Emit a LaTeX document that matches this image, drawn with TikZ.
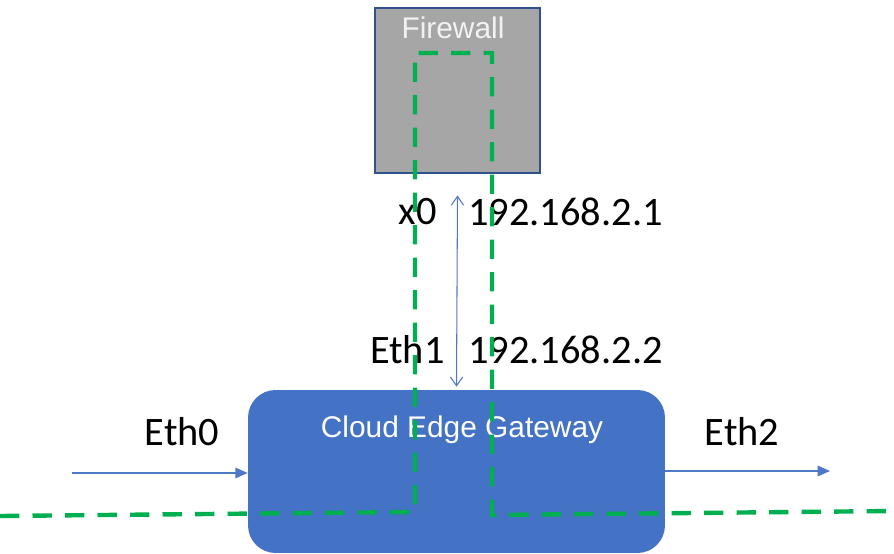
\documentclass[tikz,border=0pt]{standalone}
\usepackage{fontspec}
\setmainfont{Liberation Sans}
\newfontfamily\lblfont{Carlito}
\usetikzlibrary{arrows.meta, positioning}
\definecolor{fwgray}{RGB}{166, 166, 166}
\definecolor{fwborder}{RGB}{47, 82, 143}
\definecolor{gwblue}{RGB}{68, 114, 196}
\definecolor{linkblue}{RGB}{80, 120, 200}
\definecolor{pathgreen}{RGB}{0, 176, 80}

\begin{document}
\begin{tikzpicture}[x=0.02cm, y=-0.02cm,
    boxtext/.style={font=\fontsize{17}{20}\selectfont, text=white},
    portlbl/.style={font=\lblfont\fontsize{23}{27}\selectfont, inner sep=0pt},
    link/.style={linkblue, line width=0.7pt, -{Triangle[length=7pt, width=6pt]}},
    dbl/.style={linkblue, line width=0.6pt, {Straight Barb[length=5pt, width=7pt]}-{Straight Barb[length=5pt, width=7pt]}},
    trace/.style={pathgreen, line width=2.5pt, dash pattern=on 11pt off 7.5pt}]
        \useasboundingbox (0,0) rectangle (894,554);

        % Boxes
        \node[draw=fwborder, fill=fwgray, line width=0.6pt, minimum width=3.3cm, minimum height=3.3cm] (fw) at (457.5,90.5) {};
        \node[boxtext, text=white!95!black] (fwlbl) at (453,28) {Firewall};

        \node[fill=gwblue, rounded corners=0.55cm, minimum width=8.34cm, minimum height=3.26cm] (gw) at (456.5,471.5) {};
        \node[boxtext] (gwlbl) at (462,430) {Cloud Edge Gateway};

        % Links
        \draw[dbl] ([yshift=-0.44cm]fw.south) -- ([yshift=0.06cm]gw.north);

        \coordinate (in) at (72,473);
        \coordinate (out) at (830,471);
        \draw[link] (in) -- (in -| gw.west);
        \draw[link] (gw.east |- out) -- (out);

        % Port labels
        \node[portlbl, anchor=east] (x0) at (437,212) {x0};
        \node[portlbl, anchor=west] (ip1) at (468,212) {192.168.2.1};
        \node[portlbl, anchor=east] (eth1) at (445,350) {Eth1};
        \node[portlbl, anchor=west] (ip2) at (468,350) {192.168.2.2};
        \node[portlbl] (eth0) at (182,432) {Eth0};
        \node[portlbl] (eth2) at (742,432) {Eth2};

        % Traffic path through the firewall
        \draw[trace] (0,516) -- (415,512) -- (415,53) -- (492,53) -- (492,515) -- (894,511);
    \end{tikzpicture}
\end{document}
